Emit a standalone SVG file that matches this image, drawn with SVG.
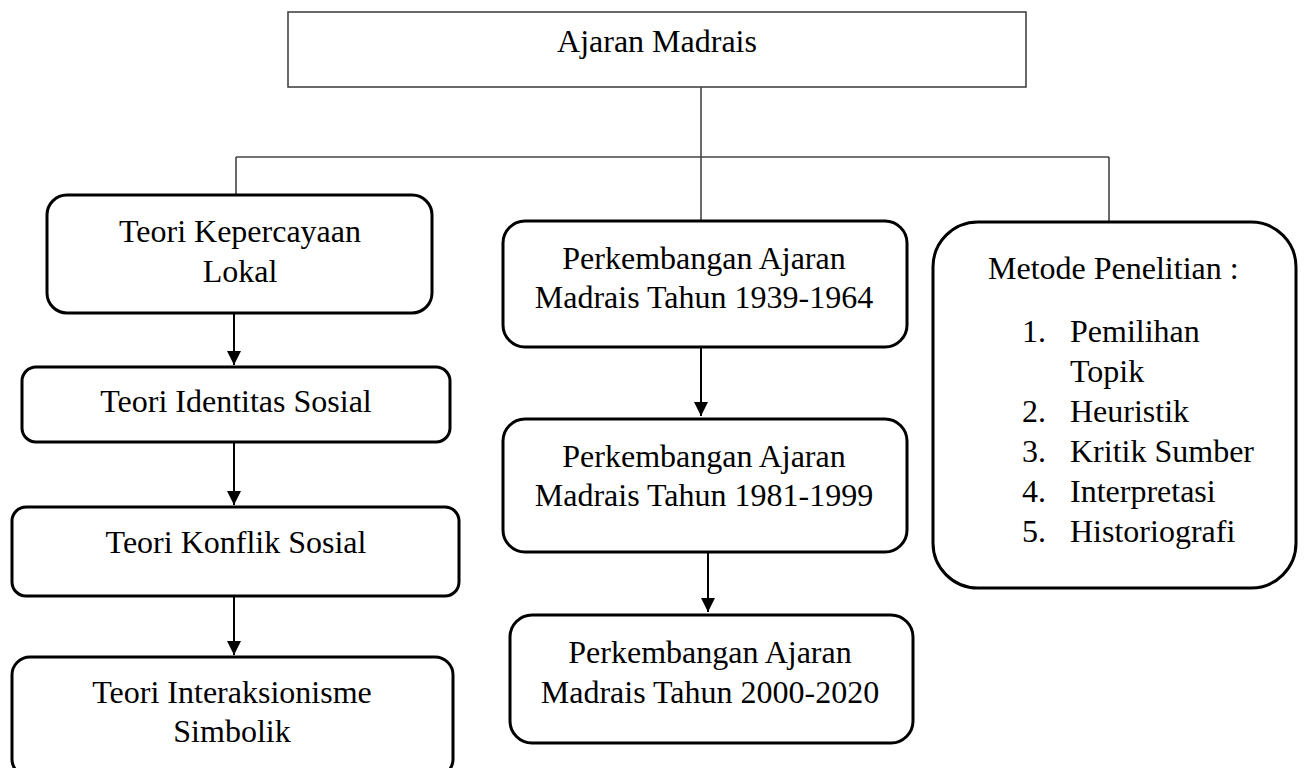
<svg xmlns="http://www.w3.org/2000/svg" width="1304" height="768" viewBox="0 0 1304 768">
<defs>
<style>
.t{font-size:32px;fill:#000;}
.c{text-anchor:middle;}
.box{fill:#fff;stroke:#000;stroke-width:3;}
.ln{stroke:#444;stroke-width:1.6;fill:none;}
.ar{stroke:#000;stroke-width:2;fill:none;}
</style>
<marker id="ah" viewBox="0 0 14 14" refX="14" refY="7" markerWidth="14" markerHeight="14" markerUnits="userSpaceOnUse" orient="auto">
<path d="M0,0 L14,7 L0,14 Z" fill="#000"/>
</marker>
</defs>
<rect width="1304" height="768" fill="#fff"/>
<g id="connectors">
<line class="ln" x1="701" y1="87" x2="701" y2="221"/>
<line class="ln" x1="236" y1="157" x2="1109" y2="157"/>
<line class="ln" x1="236" y1="157" x2="236" y2="195"/>
<line class="ln" x1="1109" y1="157" x2="1109" y2="222"/>
<line class="ar" x1="234" y1="313" x2="234" y2="365" marker-end="url(#ah)"/>
<line class="ar" x1="234" y1="442" x2="234" y2="505" marker-end="url(#ah)"/>
<line class="ar" x1="234" y1="596" x2="234" y2="655" marker-end="url(#ah)"/>
<line class="ar" x1="701" y1="347" x2="701" y2="416" marker-end="url(#ah)"/>
<line class="ar" x1="708" y1="552" x2="708" y2="612" marker-end="url(#ah)"/>
</g>
<g font-family="'Liberation Serif', 'DejaVu Serif', serif">
<g id="root">
<rect x="288" y="12" width="738" height="75" fill="#fff" stroke="#444" stroke-width="1.6"/>
<text class="t c" x="657" y="52">Ajaran Madrais</text>
</g>
<g id="kepercayaan">
<rect class="box" x="47" y="195" width="385" height="118" rx="20"/>
<text class="t c" x="240" y="242">Teori Kepercayaan</text>
<text class="t c" x="240" y="282">Lokal</text>
</g>
<g id="identitas">
<rect class="box" x="22" y="367" width="428" height="75" rx="14"/>
<text class="t c" x="236" y="412">Teori Identitas Sosial</text>
</g>
<g id="konflik">
<rect class="box" x="12" y="507" width="447" height="89" rx="14"/>
<text class="t c" x="236" y="553">Teori Konflik Sosial</text>
</g>
<g id="interaksionisme">
<rect class="box" x="12" y="657" width="441" height="120" rx="18"/>
<text class="t c" x="232" y="703">Teori Interaksionisme</text>
<text class="t c" x="232" y="742">Simbolik</text>
</g>
<g id="p1939">
<rect class="box" x="503" y="221" width="404" height="126" rx="22"/>
<text class="t c" x="704" y="269">Perkembangan Ajaran</text>
<text class="t c" x="704" y="308">Madrais Tahun 1939-1964</text>
</g>
<g id="p1981">
<rect class="box" x="503" y="419" width="404" height="133" rx="22"/>
<text class="t c" x="704" y="467">Perkembangan Ajaran</text>
<text class="t c" x="704" y="506">Madrais Tahun 1981-1999</text>
</g>
<g id="p2000">
<rect class="box" x="510" y="615" width="403" height="128" rx="22"/>
<text class="t c" x="710" y="663">Perkembangan Ajaran</text>
<text class="t c" x="710" y="703">Madrais Tahun 2000-2020</text>
</g>
<g id="metode">
<rect class="box" x="933" y="222" width="363" height="366" rx="45"/>
<text class="t" x="988" y="279">Metode Penelitian :</text>
<text class="t" x="1022" y="342">1.</text><text class="t" x="1070" y="342">Pemilihan</text>
<text class="t" x="1070" y="382">Topik</text>
<text class="t" x="1022" y="422">2.</text><text class="t" x="1070" y="422">Heuristik</text>
<text class="t" x="1022" y="462">3.</text><text class="t" x="1070" y="462">Kritik Sumber</text>
<text class="t" x="1022" y="502">4.</text><text class="t" x="1070" y="502">Interpretasi</text>
<text class="t" x="1022" y="542">5.</text><text class="t" x="1070" y="542">Historiografi</text>
</g>
</g>
</svg>
